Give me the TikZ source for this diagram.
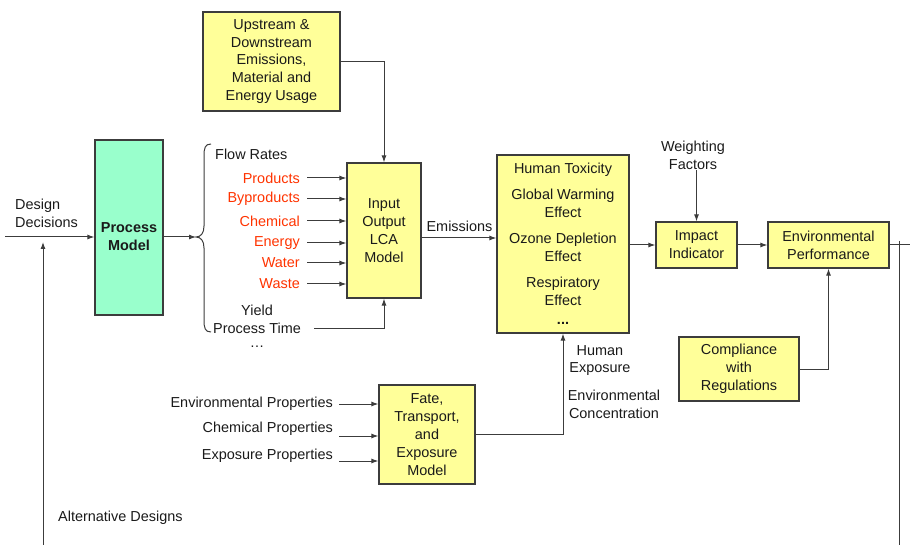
\documentclass[tikz,border=0pt]{standalone}
\usepackage{fontspec}
\setmainfont{Liberation Sans}
\usetikzlibrary{arrows.meta}
\definecolor{boxyellow}{HTML}{FFFF99}
\definecolor{boxmint}{HTML}{99FFCC}
\definecolor{flowred}{HTML}{FF3300}
\definecolor{ink}{HTML}{1A1A1A}
\begin{document}
\begin{tikzpicture}[x=1bp,y=-1bp,
  font=\fontsize{14.5}{18}\selectfont,
  every node/.style={text=ink},
  box/.style={draw=ink!85, line width=1.2bp, fill=boxyellow, align=center, inner sep=2bp},
  conn/.style={draw=ink!85, line width=1bp},
  arr/.style={conn, -{Latex[length=7bp,width=5bp]}},
  lbl/.style={inner sep=0pt, align=center},
  flowlbl/.style={inner sep=0pt, text=flowred, anchor=east}]
\useasboundingbox (0,0) rectangle (910,545);

% ---- process model and its inputs ----
\node[box, fill=boxmint, minimum width=68bp, minimum height=175bp] (pm) at (129,227.5) {};
\node[lbl, font=\fontsize{14.5}{18}\selectfont\bfseries] (pmtext) at (129,237) {Process\\Model};

\node[lbl, anchor=west, align=left] (dd) at (15,213.5) {Design\\Decisions};
\coordinate (ddin) at (5,237);
\draw[arr] (ddin) -- (ddin -| pm.west);

\node[lbl, anchor=west] (alt) at (58,518) {Alternative Designs};
\coordinate (altbot) at (43,545);
\coordinate (altin) at (43,242);
\draw[arr] (altbot) -- (altin);

% ---- brace grouping the process outputs ----
\coordinate (btip) at (196,237);
\draw[conn] (211,144) .. controls (205,144) and (204,148) .. (204,156)
  -- (204,226) .. controls (204,233) and (201,237) .. (btip)
  .. controls (201,237) and (204,241) .. (204,248)
  -- (204,320) .. controls (204,328) and (205,332) .. (211,332);
\draw[arr] (pm.east |- btip) -- (btip);

\node[lbl, anchor=west] (flow) at (215,154) {Flow Rates};
\node[flowlbl] (prod) at (300,178) {Products};
\node[flowlbl] (byprod) at (300,199) {Byproducts};
\node[flowlbl] (chem) at (300,221) {Chemical};
\node[flowlbl] (energy) at (300,243) {Energy};
\node[flowlbl] (water) at (300,263) {Water};
\node[flowlbl] (waste) at (300,284) {Waste};
\node[lbl] (yld) at (257,310) {Yield};
\node[lbl, anchor=west] (pt) at (213,328) {Process Time};
\node[lbl] (more) at (257,347) {…};

% ---- input-output LCA model ----
\node[box, minimum width=74bp, minimum height=135bp] (lca) at (384,230.5) {Input\\Output\\LCA\\Model};
\node[box, minimum width=137bp, minimum height=99bp] (up) at (271.5,61.5)
  {Upstream \&\\Downstream\\Emissions,\\Material and\\Energy Usage};

\foreach \src in {prod,byprod,chem,energy,water,waste}
  \draw[arr] ([xshift=7bp]\src.east) -- (lca.west |- \src.east);
\draw[arr] ([xshift=13bp]pt.east) -| (lca.south);
\draw[arr] (up.east) -| (lca.north);

% ---- impact categories ----
\node[box, minimum width=132bp, minimum height=178bp] (hum) at (563,244)
  {Human Toxicity\\[8bp]Global Warming\\Effect\\[8bp]Ozone Depletion\\Effect\\[8bp]Respiratory\\Effect\\[1bp]\textbf{...}};
\node[lbl] (emis) at (459.5,226) {Emissions};
\draw[arr] ([yshift=-7.5bp]lca.east) coordinate (emo) -- (emo -| hum.west);

% ---- indicator and performance ----
\node[box, minimum width=81bp, minimum height=46bp] (imp) at (696.5,245) {Impact\\Indicator};
\node[box, minimum width=121bp, minimum height=46bp] (ep) at (828.5,245) {Environmental\\Performance};
\node[box, minimum width=120bp, minimum height=64bp] (comp) at (739,369) {Compliance\\with\\Regulations};
\node[lbl] (wf) at (693,155.5) {Weighting\\Factors};

\draw[arr] (hum.east |- imp.west) -- (imp.west);
\draw[arr] (wf.south -| imp.north) -- (imp.north);
\draw[arr] (imp.east) -- (ep.west);
\draw[arr] (comp.east) -| (ep.south);

% feedback line leaving the performance block
\coordinate (fbout) at (910,245);
\coordinate (fbtop) at (899,241);
\coordinate (fbbot) at (899,545);
\draw[conn] (ep.east) -- (fbout);
\draw[conn] (fbtop) -- (fbbot);

% ---- fate, transport and exposure ----
\node[box, minimum width=96bp, minimum height=99bp] (fate) at (427,434.5)
  {Fate,\\Transport,\\and\\Exposure\\Model};
\node[lbl, anchor=east] (envp) at (333,404) {Environmental Properties};
\node[lbl, anchor=east] (chemp) at (333,429) {Chemical Properties};
\node[lbl, anchor=east] (expp) at (333,456) {Exposure Properties};
\draw[arr] ([xshift=6bp]envp.east) -- (fate.west |- envp.east);
\draw[arr] ([xshift=6bp,yshift=-7bp]chemp.east) coordinate (c1) -- (c1 -| fate.west);
\draw[arr] ([xshift=6bp,yshift=-5bp]expp.east) coordinate (c2) -- (c2 -| fate.west);

\node[lbl] (hexp) at (600,360.5) {Human\\Exposure};
\node[lbl] (econc) at (614,404.5) {Environmental\\Concentration};
\draw[arr] (fate.east) -| (hum.south);
\end{tikzpicture}
\end{document}
